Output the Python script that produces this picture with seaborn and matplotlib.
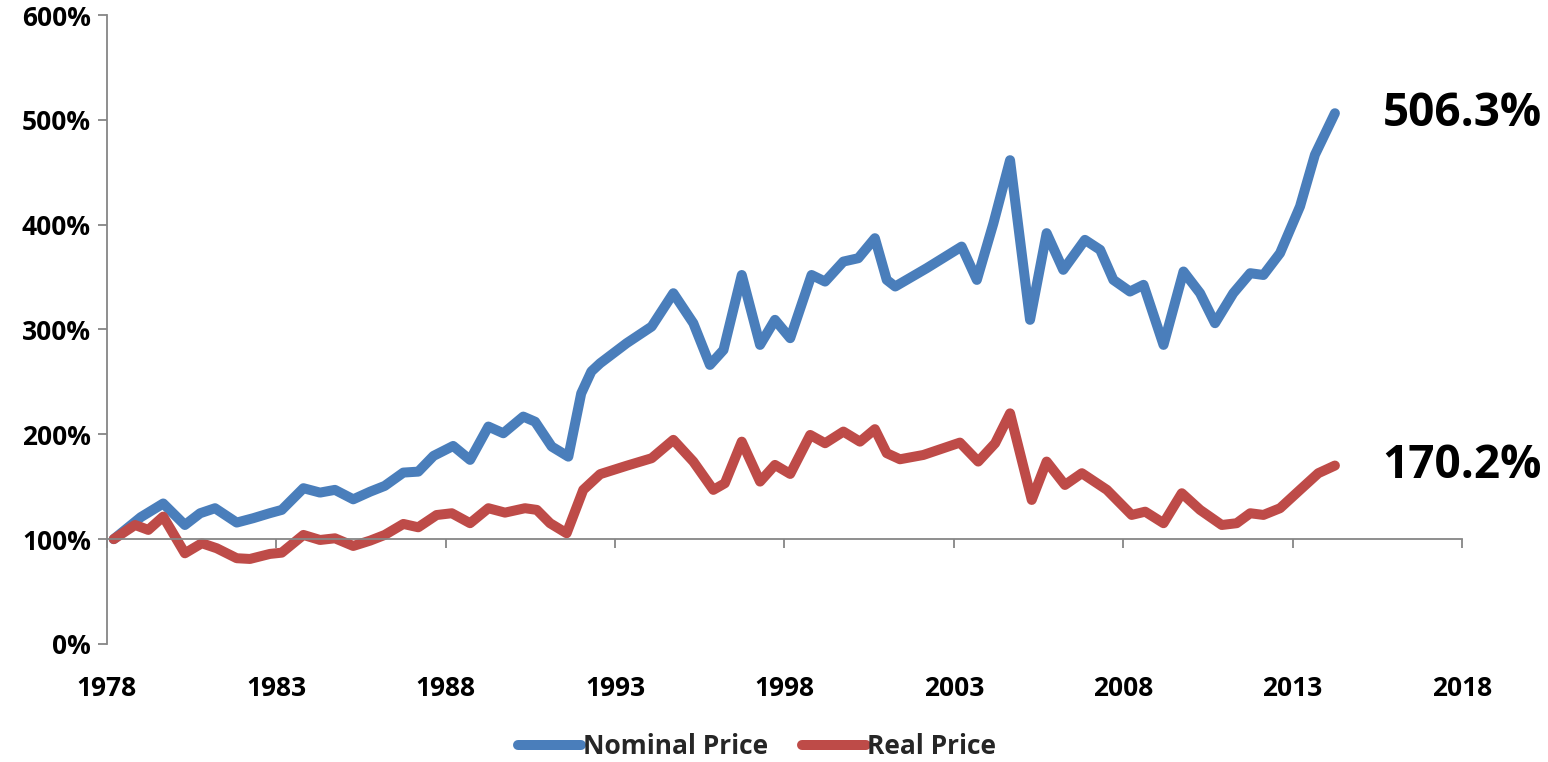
import matplotlib
matplotlib.use("Agg")
import matplotlib.pyplot as plt
from matplotlib.ticker import FuncFormatter
import seaborn as sns
import pandas as pd

# values (percent of 1978 level)
nominal_years = [1978.2, 1979.0, 1979.66, 1980.3, 1980.75, 1981.19, 1981.83, 1982.32,
                 1982.8, 1983.16, 1983.8, 1984.29, 1984.73, 1985.27, 1985.77, 1986.2,
                 1986.75, 1987.19, 1987.64, 1988.22, 1988.72, 1989.26, 1989.7, 1990.29,
                 1990.64, 1991.13, 1991.62, 1992.0, 1992.3, 1992.56, 1993.34, 1994.08,
                 1994.72, 1995.31, 1995.8, 1996.2, 1996.74, 1997.28, 1997.72, 1998.17,
                 1998.8, 1999.2, 1999.74, 2000.18, 2000.67, 2001.02, 2001.27, 2002.2,
                 2003.23, 2003.68, 2004.17, 2004.66, 2005.25, 2005.74, 2006.23, 2006.87,
                 2007.32, 2007.71, 2008.2, 2008.6, 2009.19, 2009.78, 2010.27, 2010.71,
                 2011.25, 2011.75, 2012.14, 2012.63, 2013.22, 2013.66, 2014.25]
nominal_vals = [100, 121, 134, 113.5, 124.7, 129.5, 115.8, 120,
                124.7, 127.9, 148.6, 144.4, 147, 138, 145.3, 150.8,
                163.5, 164.4, 179.4, 188.9, 175.6, 207.4, 201, 216.9,
                212, 188.3, 178.7, 239, 260, 267.8, 286.9, 302.8,
                334.6, 306, 266.2, 280.5, 352, 285.3, 309.2, 291.7,
                352, 345.7, 364.8, 368, 387.1, 347.3, 341, 358.5,
                379.1, 347.3, 401.4, 461.5, 309.2, 391.9, 356.9, 385.5,
                376, 347.3, 336.2, 342.6, 285.3, 355.3, 334.6, 306,
                334.6, 353.7, 352, 372.8, 417.4, 466.6, 506.3]

real_years = [1978.2, 1978.83, 1979.22, 1979.66, 1980.3, 1980.8, 1981.24, 1981.83,
              1982.22, 1982.81, 1983.16, 1983.8, 1984.29, 1984.73, 1985.27, 1985.77,
              1986.2, 1986.75, 1987.19, 1987.73, 1988.18, 1988.72, 1989.26, 1989.75,
              1990.34, 1990.69, 1991.08, 1991.57, 1992.06, 1992.56, 1993.34, 1994.08,
              1994.72, 1995.31, 1995.9, 1996.24, 1996.74, 1997.28, 1997.72, 1998.17,
              1998.76, 1999.2, 1999.74, 2000.23, 2000.67, 2001.02, 2001.41, 2002.1,
              2003.18, 2003.72, 2004.22, 2004.66, 2005.3, 2005.74, 2006.28, 2006.78,
              2007.52, 2008.25, 2008.65, 2009.19, 2009.73, 2010.27, 2010.91, 2011.35,
              2011.75, 2012.14, 2012.63, 2013.22, 2013.76, 2014.25]
real_vals = [100, 113.5, 108.8, 121.5, 86.5, 96.1, 91.3, 81.8,
             81.1, 85.9, 87.1, 104, 99.2, 100.8, 93.5, 98.6,
             104, 114.5, 111.3, 123, 124.7, 115.2, 129.5, 125.3,
             129.5, 127.9, 115.2, 105.6, 147, 162, 170, 177.2,
             194.7, 174, 147, 153.3, 193, 154.9, 170.8, 162.2,
             199.4, 191.5, 202.6, 193, 204.9, 182, 176.2, 180.3,
             192.1, 174, 191.5, 220, 137.4, 174, 151.7, 162.9,
             147, 123.1, 126.2, 115.2, 143.8, 127.9, 113.5, 115.2,
             124.7, 123.1, 129.5, 147, 162.9, 170.2]

x_ticks = [1978, 1983, 1988, 1993, 1998, 2003, 2008, 2013, 2018]
y_ticks = [0, 100, 200, 300, 400, 500, 600]

blue = "#4A7EBB"
red = "#BE4B48"
grey = "#868686"

sns.set_theme(style="white")
plt.rcParams["font.family"] = ["Open Sans", "DejaVu Sans"]
plt.rcParams["font.weight"] = "bold"

nominal = pd.DataFrame({"year": nominal_years, "value": nominal_vals})
real = pd.DataFrame({"year": real_years, "value": real_vals})

fig = plt.figure(figsize=(15.48, 7.62), dpi=100)
ax = fig.add_axes([0.0691, 0.1549, 0.8753, 0.8254])

line_kw = dict(linewidth=7.2, solid_capstyle="round", solid_joinstyle="round")
sns.lineplot(data=nominal, x="year", y="value", color=blue, label="Nominal Price",
             sort=False, ax=ax, **line_kw)
sns.lineplot(data=real, x="year", y="value", color=red, label="Real Price",
             sort=False, ax=ax, **line_kw)

ax.set_xlim(1978, 2018)
ax.set_ylim(0, 600)
ax.set_xlabel("")
ax.set_ylabel("")

for s in ["top", "right"]:
    ax.spines[s].set_visible(False)
ax.spines["left"].set_color(grey)
ax.spines["left"].set_linewidth(1.3)
ax.spines["bottom"].set_color(grey)
ax.spines["bottom"].set_linewidth(1.3)
ax.spines["bottom"].set_position(("data", 100))

ax.set_yticks(y_ticks)
ax.yaxis.set_major_formatter(FuncFormatter(lambda v, p: f"{v:.0f}%"))
ax.tick_params(axis="y", left=True, direction="out", length=6.5, width=1.3,
               color=grey, labelsize=19, labelcolor="black", pad=5)
ax.set_xticks(x_ticks)
ax.tick_params(axis="x", bottom=True, direction="out", length=6.5, width=1.3,
               color=grey, labelbottom=False)

# year labels sit below the plot, while the axis line crosses at 100%
sec = ax.secondary_xaxis(0)
sec.set_xticks(x_ticks)
sec.spines["bottom"].set_visible(False)
sec.tick_params(axis="x", length=0, labelsize=19, labelcolor="black", pad=22)

# end-value labels
for df in (nominal, real):
    last = df["value"].iloc[-1]
    ax.text(2015.65, last, f"{last:.1f}%", fontsize=33, fontweight="bold",
            ha="left", va="center", color="black", clip_on=False)

handles, labels = ax.get_legend_handles_labels()
ax.get_legend().remove()
fig.legend(handles, labels, loc="center", bbox_to_anchor=(757 / 1548, 0.02),
           ncol=2, frameon=False, fontsize=19, handlelength=2.4,
           handletextpad=0.05, columnspacing=1.3)

fig.savefig("out.png", dpi=100)
